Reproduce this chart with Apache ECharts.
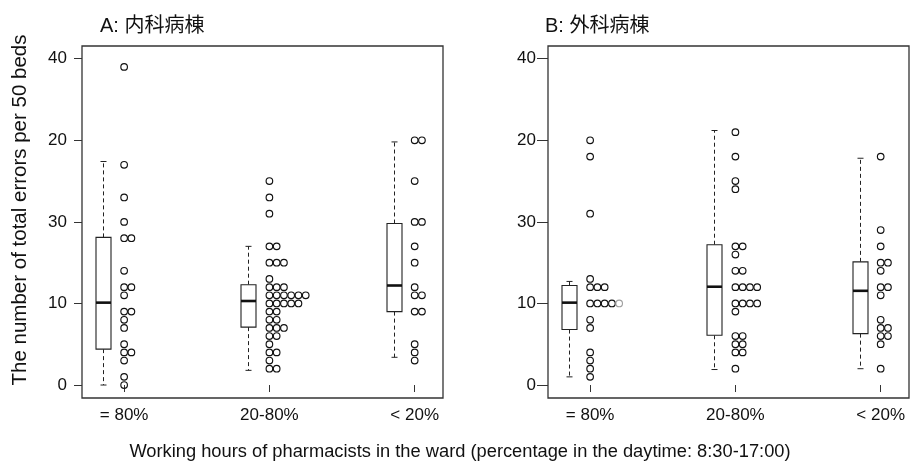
<!DOCTYPE html>
<html><head><meta charset="utf-8">
<script src="https://cdn.jsdelivr.net/npm/echarts@6/dist/echarts.min.js"></script>
<style>html,body{margin:0;padding:0;background:#fff}#c{width:921px;height:469px}</style>
</head><body><div id="c"></div>
<script>
// ---------- text ----------
const categories = ['= 80%', '20-80%', '< 20%'];
const yTickValues = [0, 10, 20, 30, 40];
const yTickLabels = ['0', '10', '30', '20', '40'];
const panelTitles = ['A: 内科病棟', 'B: 外科病棟'];
const yTitle = 'The number of total errors per 50 beds';
const xTitle = 'Working hours of pharmacists in the ward (percentage in the daytime: 8:30-17:00)';

// ---------- individual wards (values as placed on the drawn y axis) ----------
// Panel A: 内科病棟
const A_ge80 = [39, 27, 23, 20, 18, 18, 14, 12, 12, 11, 9, 9, 8, 7, 5, 4, 4, 3, 1, 0];
const A_20to80 = [25, 23, 21, 17, 17, 15, 15, 15, 13, 12, 12, 12, 11, 11, 11, 11, 11, 11,
                  10, 10, 10, 10, 10, 9, 9, 8, 8, 7, 7, 7, 6, 6, 5, 4, 4, 3, 2, 2];
const A_lt20 = [30, 30, 25, 20, 20, 17, 15, 12, 11, 11, 9, 9, 5, 4, 3];
// Panel B: 外科病棟
const B_ge80 = [30, 28, 21, 13, 12, 12, 12, 10, 10, 10, 10, 10, 8, 7, 4, 3, 2, 1];
const B_20to80 = [31, 28, 25, 24, 17, 17, 16, 14, 14, 12, 12, 12, 12, 10, 10, 10, 10, 9,
                  6, 6, 5, 5, 4, 4, 2];
const B_lt20 = [28, 19, 17, 15, 15, 14, 12, 12, 11, 8, 7, 7, 6, 6, 5, 2];

// ---------- box statistics: [lower whisker, Q1, median, Q3, upper whisker] ----------
const boxA = [[0, 4.4, 10.1, 18.1, 27.4], [1.8, 7.1, 10.3, 12.3, 17.0], [3.4, 9.0, 12.2, 19.8, 29.8]];
const boxB = [[1.0, 6.8, 10.1, 12.2, 12.7], [1.9, 6.1, 12.05, 17.2, 31.2], [2.0, 6.3, 11.55, 15.1, 27.8]];

const pointsA = [A_ge80, A_20to80, A_lt20];
const pointsB = [B_ge80, B_20to80, B_lt20];

// ---------- layout/style constants ----------
const BOX_SHIFT = -0.144;   // box drawn left of the category tick
const DOT_STEP = 0.05;      // horizontal stacking step for equal values
const FONT = '"Liberation Sans", Arial, "Noto Sans CJK JP", sans-serif';

function stackPoints(groups, faint) {
  const out = [];
  groups.forEach((vals, gi) => {
    const seen = {};
    vals.forEach(v => {
      const k = seen[v] || 0;
      seen[v] = k + 1;
      const item = { value: [gi + 1 + k * DOT_STEP, v] };
      if (faint && faint.group === gi && faint.value === v && faint.rank === k) {
        item.itemStyle = { borderColor: '#a0a0a0' };
      }
      out.push(item);
    });
  });
  return out;
}
function boxData(stats) {
  return stats.map((s, gi) => [gi + 1 + BOX_SHIFT].concat(s));
}

function renderBox(params, api) {
  const x = api.value(0);
  const lo = api.coord([x, api.value(1)]);
  const q1 = api.coord([x, api.value(2)]);
  const md = api.coord([x, api.value(3)]);
  const q3 = api.coord([x, api.value(4)]);
  const hi = api.coord([x, api.value(5)]);
  const cx = Math.round(lo[0]) + 0.5, hw = 7.5, cw = 3;
  const dash = { stroke: '#222', lineWidth: 1, lineDash: [4, 3] };
  const solid = { stroke: '#222', lineWidth: 1 };
  return {
    type: 'group',
    children: [
      { type: 'line', shape: { x1: cx, y1: q3[1], x2: cx, y2: hi[1] }, style: dash },
      { type: 'line', shape: { x1: cx, y1: q1[1], x2: cx, y2: lo[1] }, style: dash },
      { type: 'line', shape: { x1: cx - cw, y1: hi[1], x2: cx + cw, y2: hi[1] }, style: solid },
      { type: 'line', shape: { x1: cx - cw, y1: lo[1], x2: cx + cw, y2: lo[1] }, style: solid },
      { type: 'rect', shape: { x: cx - hw, y: q3[1], width: 2 * hw, height: q1[1] - q3[1] },
        style: { fill: '#fff', stroke: '#222', lineWidth: 1.1 } },
      { type: 'line', shape: { x1: cx - hw, y1: md[1], x2: cx + hw, y2: md[1] },
        style: { stroke: '#111', lineWidth: 2.6 } }
    ]
  };
}

function xAxisFor(gi) {
  return {
    type: 'value', gridIndex: gi, min: 0.71, max: 3.195,
    axisLine: { show: false }, splitLine: { show: false },
    axisTick: { show: true, customValues: [1, 2, 3], length: 7, lineStyle: { color: '#333', width: 1 } },
    axisLabel: { customValues: [1, 2, 3], formatter: v => categories[Math.round(v) - 1],
                 fontSize: 17, fontFamily: FONT, color: '#111', margin: 9 }
  };
}
function yAxisFor(gi, tickLen, margin) {
  return {
    type: 'value', gridIndex: gi, min: -1.59, max: 41.56,
    axisLine: { show: false }, splitLine: { show: false },
    axisTick: { show: true, customValues: yTickValues, length: tickLen, lineStyle: { color: '#333', width: 1 } },
    axisLabel: { customValues: yTickValues, formatter: v => yTickLabels[yTickValues.indexOf(v)],
                 fontSize: 17, fontFamily: FONT, color: '#111', margin: margin }
  };
}
function dotSeries(gi, groups, faint) {
  return {
    type: 'scatter', xAxisIndex: gi, yAxisIndex: gi, symbol: 'circle', symbolSize: 6.6,
    itemStyle: { color: 'rgba(255,255,255,0)', borderColor: '#111', borderWidth: 1.15, opacity: 1 },
    emphasis: { disabled: true }, silent: true, z: 3,
    data: stackPoints(groups, faint)
  };
}
function boxSeries(gi, stats) {
  return {
    type: 'custom', xAxisIndex: gi, yAxisIndex: gi, renderItem: renderBox, z: 2, silent: true,
    encode: { x: 0, y: [1, 2, 3, 4, 5] },
    data: boxData(stats)
  };
}

const chart = echarts.init(document.getElementById('c'), null, { renderer: 'canvas' });
chart.setOption({
  animation: false,
  backgroundColor: '#fff',
  grid: [
    { left: 82, top: 46, width: 361, height: 352, show: true, borderColor: '#333', borderWidth: 1.3, backgroundColor: 'transparent' },
    { left: 548, top: 46, width: 361, height: 352, show: true, borderColor: '#333', borderWidth: 1.3, backgroundColor: 'transparent' }
  ],
  xAxis: [xAxisFor(0), xAxisFor(1)],
  yAxis: [yAxisFor(0, 8, 15), yAxisFor(1, 11, 12)],
  series: [
    boxSeries(0, boxA), dotSeries(0, pointsA, null),
    boxSeries(1, boxB), dotSeries(1, pointsB, { group: 0, value: 10, rank: 4 })
  ],
  graphic: [
    { type: 'text', x: 100, y: 26, style: { text: panelTitles[0], font: '20px ' + FONT, fill: '#111', textVerticalAlign: 'middle' } },
    { type: 'text', x: 545, y: 26, style: { text: panelTitles[1], font: '20px ' + FONT, fill: '#111', textVerticalAlign: 'middle' } },
    { type: 'text', x: 20.5, y: 210, rotation: Math.PI / 2,
      style: { text: yTitle, font: '20.5px ' + FONT, fill: '#111', textAlign: 'center', textVerticalAlign: 'middle' } },
    { type: 'text', x: 460, y: 452,
      style: { text: xTitle, font: '18.3px ' + FONT, fill: '#111', textAlign: 'center', textVerticalAlign: 'middle' } }
  ]
});
</script>
</body></html>
